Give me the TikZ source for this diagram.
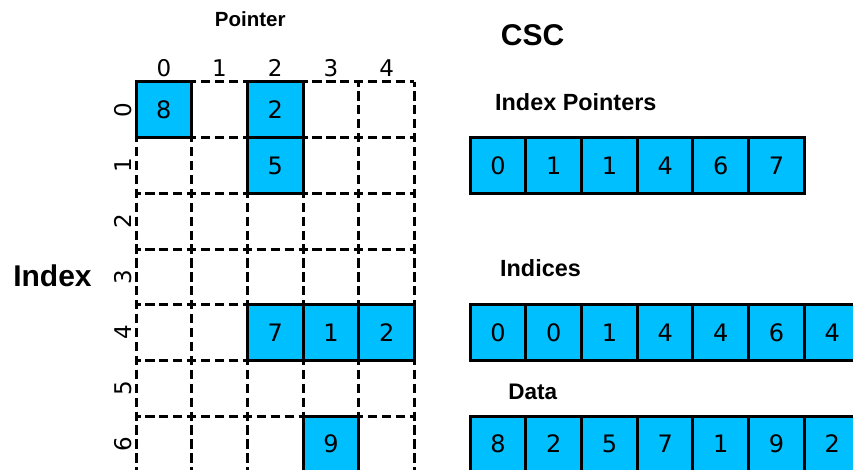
\documentclass[tikz,border=0pt]{standalone}
\usepackage{fontspec}
\setmainfont{DejaVu Sans}
\newfontfamily\headfont{Liberation Sans}
\definecolor{sky}{RGB}{0,191,255}

\tikzset{
  entry/.style={draw, fill=sky, line width=3pt, minimum size=55.7pt, inner sep=0pt,
    font=\fontsize{24}{24}\selectfont},
  gridline/.style={line width=3pt, dash pattern=on 9.2pt off 4.725pt, dash phase=4.6pt},
  axislabel/.style={anchor=base, inner sep=0pt, font=\fontsize{23}{23}\selectfont},
  title/.style={anchor=base west, inner sep=0pt},
}

\begin{document}
\begin{tikzpicture}[x=55.7pt, y=-55.7pt]
    \useasboundingbox (-2.442,-1.472) rectangle (12.873,6.966);
    \clip (-2.442,-1.472) rectangle (12.873,6.966);

    % dashed matrix grid
    \foreach \r in {0,...,7} \draw[gridline] (0,\r) -- (5,\r);
    \foreach \c in {0,...,5} \draw[gridline] (\c,0) -- (\c,7);

    % non-zero entries
    \foreach \r/\c/\v in {0/0/8, 0/2/2, 1/2/5, 4/2/7, 4/3/1, 4/4/2, 6/3/9}
        \node[entry] (m-\r-\c) at (\c+0.5,\r+0.5) {\v};

    \foreach \c in {0,...,4}
        \node[axislabel] (col-\c) at (\c+0.5,-0.1) {\c};
    \foreach \r in {0,...,6}
        \node[axislabel, rotate=90] (row-\r) at (-0.08,\r+0.5) {\r};

    \node[anchor=base, inner sep=0pt, font={\headfont\bfseries\fontsize{20.5}{24}\selectfont}]
        (pointer) at (2.05,-0.99) {Pointer};
    \node[anchor=base, inner sep=0pt, font={\headfont\bfseries\fontsize{30}{34}\selectfont}]
        (index) at (-1.50,3.675) {Index};
    \node[anchor=base, inner sep=0pt, font={\headfont\bfseries\fontsize{30}{34}\selectfont}]
        (csc) at (7.12,-0.664) {CSC};

    % CSC arrays
    \node[title, font={\headfont\bfseries\fontsize{23.4}{27}\selectfont}]
        (ptr-title) at (6.445,0.503) {Index Pointers};
    \foreach \v [count=\i from 0] in {0,1,1,4,6,7}
        \node[entry] (ptr-\i) at (6.5+\i,1.5) {\v};

    \node[title, font={\headfont\bfseries\fontsize{23.4}{27}\selectfont}]
        (idx-title) at (6.535,3.495) {Indices};
    \foreach \v [count=\i from 0] in {0,0,1,4,4,6,4}
        \node[entry] (idx-\i) at (6.5+\i,4.5) {\v};

    \node[title, font={\headfont\bfseries\fontsize{22.5}{26}\selectfont}]
        (dat-title) at (6.68,5.70) {Data};
    \foreach \v [count=\i from 0] in {8,2,5,7,1,9,2}
        \node[entry] (dat-\i) at (6.5+\i,6.5) {\v};
\end{tikzpicture}
\end{document}
